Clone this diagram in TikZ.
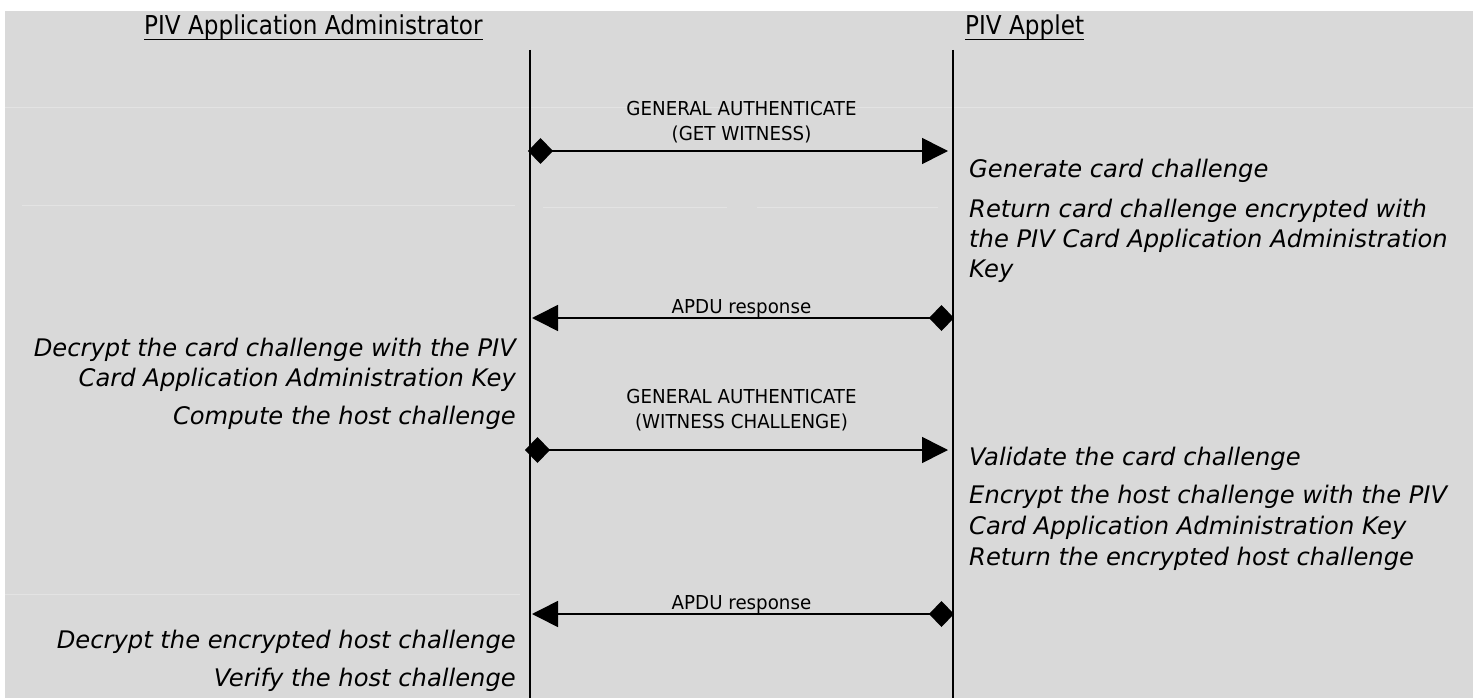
\documentclass[tikz,border=0pt]{standalone}
\usepackage{fontspec}
\setmainfont{DejaVu Sans}
\newfontfamily\hdrfont[FakeStretch=0.89]{DejaVu Sans}
\newfontfamily\lblfont[FakeStretch=0.95]{DejaVu Sans}
\usetikzlibrary{arrows.meta}
\definecolor{bg}{HTML}{D9D9D9}
\definecolor{faint}{HTML}{E3E3E3}
\tikzset{
  hdr/.style={inner sep=0pt, anchor=base west, font=\hdrfont\fontsize{26}{30}\selectfont},
  lbl/.style={inner sep=0pt, anchor=base, font=\lblfont\fontsize{19.2}{23}\selectfont},
  stepL/.style={inner sep=0pt, anchor=base east, font=\fontsize{24.2}{29}\selectfont\itshape},
  stepR/.style={inner sep=0pt, anchor=base west, font=\fontsize{24.2}{29}\selectfont\itshape},
  life/.style={line width=2pt},
  msg/.style={line width=1.6pt},
  uline/.style={line width=1.6pt},
  gridline/.style={faint, line width=1pt},
  msgtri/.tip={Triangle[length=26pt,width=26pt]},
  msgdia/.tip={Diamond[length=25pt,width=26pt]},
}
\begin{document}
\begin{tikzpicture}[x=1pt,y=-1pt]
\useasboundingbox (0,0) rectangle (1473,698);
\fill[white] (0,0) rectangle (1473,698);
\fill[bg] (5,11) rectangle (1473,698);
% faint table grid remnants
\draw[gridline] (5,108) -- (1473,108);
\draw[gridline] (22,205) -- (515,205);
\draw[gridline] (543,207) -- (727,207);
\draw[gridline] (757,207) -- (938,207);
\draw[gridline] (5,594) -- (520,594);

% headers
\node[hdr] (hA) at (144,35) {PIV Application Administrator};
\draw[uline] ([yshift=-4.5pt]hA.base west) -- ([yshift=-4.5pt]hA.base east);
\node[hdr] (hB) at (965,35) {PIV Applet};
\draw[uline] ([yshift=-4.5pt]hB.base west) -- ([yshift=-4.5pt]hB.base east);

% lifelines
\coordinate (aTop) at (530,50);
\coordinate (aBot) at (530,698);
\coordinate (bTop) at (953,50);
\coordinate (bBot) at (953,698);
\draw[life] (aTop) -- (aBot);
\draw[life] (bTop) -- (bBot);

% message 1
\coordinate (m1a) at (528,151);
\coordinate (m1b) at (948,151);
\draw[msg, arrows={msgdia-msgtri}] (m1a) -- (m1b);
\node[lbl] (l1a) at (741.5,116) {GENERAL AUTHENTICATE};
\node[lbl] (l1b) at (741.5,141) {(GET WITNESS)};

% message 2
\coordinate (m2a) at (954,318);
\coordinate (m2b) at (532,318);
\draw[msg, arrows={msgdia-msgtri}] (m2a) -- (m2b);
\node[lbl] (l2) at (741.5,313) {APDU response};

% message 3
\coordinate (m3a) at (525,450);
\coordinate (m3b) at (948,450);
\draw[msg, arrows={msgdia-msgtri}] (m3a) -- (m3b);
\node[lbl] (l3a) at (741.5,403) {GENERAL AUTHENTICATE};
\node[lbl] (l3b) at (741.5,428) {(WITNESS CHALLENGE)};

% message 4
\coordinate (m4a) at (954,614);
\coordinate (m4b) at (532,614);
\draw[msg, arrows={msgdia-msgtri}] (m4a) -- (m4b);
\node[lbl] (l4) at (741.5,609) {APDU response};

% administrator side steps
\node[stepL] (sA1a) at (516,356) {Decrypt the card challenge with the PIV};
\node[stepL] (sA1b) at (516,386) {Card Application Administration Key};
\node[stepL] (sA2) at (516,424) {Compute the host challenge};
\node[stepL] (sA3) at (516,648) {Decrypt the encrypted host challenge};
\node[stepL] (sA4) at (516,686) {Verify the host challenge};

% applet side steps
\node[stepR] (sB1) at (969,178) {Generate card challenge};
\node[stepR] (sB2a) at (969,217) {Return card challenge encrypted with};
\node[stepR] (sB2b) at (969,247) {the PIV Card Application Administration};
\node[stepR] (sB2c) at (969,277) {Key};
\node[stepR] (sB3) at (969,465) {Validate the card challenge};
\node[stepR] (sB4a) at (969,503) {Encrypt the host challenge with the PIV};
\node[stepR] (sB4b) at (969,534) {Card Application Administration Key};
\node[stepR] (sB5) at (969,565) {Return the encrypted host challenge};
\end{tikzpicture}
\end{document}
